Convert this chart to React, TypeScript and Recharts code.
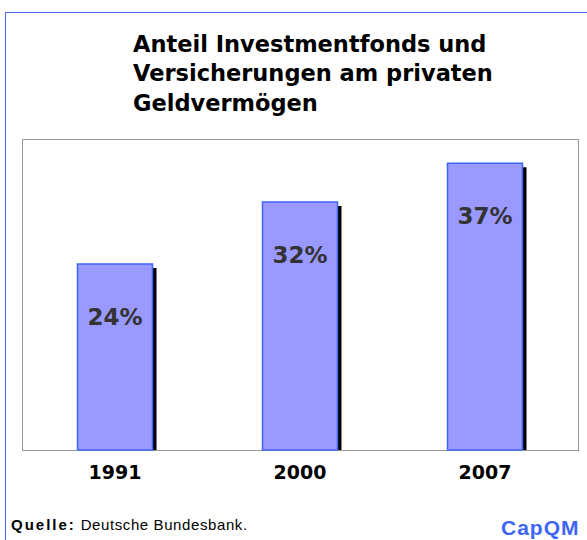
import { BarChart, Bar, XAxis, YAxis, LabelList } from "recharts";

const years = ["1991", "2000", "2007"];
const shares = [24, 32, 37];
const titleLines = ["Anteil Investmentfonds und", "Versicherungen am privaten", "Geldvermögen"];

const data = years.map((y, i) => ({ year: y, share: shares[i] }));

const BarWithShadow = (props: any) => {
    const { x, y, width, height } = props;
    return (
        <g>
            <rect x={x + 4} y={y + 4} width={width} height={Math.max(height - 4, 0)} fill="#000" />
            <rect x={x} y={y} width={width} height={height} fill="#9999FF" stroke="#3D66F5" strokeWidth={1.5} />
        </g>
    );
};

const ValueLabel = (props: any) => {
    const { x, y, width, value } = props;
    return (
        <text
            x={x + width / 2}
            y={y + 61}
            textAnchor="middle"
            fill="#333"
            fontSize={23}
            fontWeight="bold"
            fontFamily="DejaVu Sans"
        >
            {value}%
        </text>
    );
};

const App = () => {
    return (
        <div style={{ position: "fixed", left: 0, top: 0, width: 587, height: 540, background: "#fff", overflow: "hidden" }}>
            {/* outer frame */}
            <div style={{ position: "absolute", left: 5, top: 12, width: 700, height: 700, borderLeft: "1.5px solid #4A6CF0", borderTop: "1.5px solid #4A6CF0" }} />
            {/* plot box */}
            <div style={{ position: "absolute", left: 22, top: 139, width: 555, height: 310, border: "1.5px solid #999" }} />

            <div
                style={{
                    position: "absolute",
                    left: 133,
                    top: 29.5,
                    fontFamily: "DejaVu Sans",
                    fontWeight: "bold",
                    fontSize: 22.5,
                    lineHeight: "29.5px",
                    color: "#000",
                    whiteSpace: "nowrap",
                }}
            >
                {titleLines.map((t) => (
                    <div key={t}>{t}</div>
                ))}
            </div>

            <div style={{ position: "absolute", left: 0, top: 0 }}>
                <BarChart width={587} height={540} data={data} margin={{ top: 140, right: 9.5, bottom: 60, left: 22.5 }}>
                    <XAxis
                        dataKey="year"
                        height={30}
                        axisLine={false}
                        tickLine={false}
                        tickSize={0}
                        tickMargin={16}
                        tick={{ fontSize: 19, fontWeight: "bold", fill: "#000", fontFamily: "DejaVu Sans" }}
                    />
                    <YAxis hide domain={[0, 40]} />
                    <Bar dataKey="share" barSize={75} shape={BarWithShadow} isAnimationActive={false}>
                        <LabelList dataKey="share" content={ValueLabel} />
                    </Bar>
                </BarChart>
            </div>

            <div
                style={{
                    position: "absolute",
                    left: 11,
                    top: 516,
                    fontFamily: "Liberation Sans",
                    fontSize: 15,
                    color: "#000",
                    whiteSpace: "nowrap",
                    letterSpacing: 0.6,
                }}
            >
                <span style={{ fontWeight: "bold", letterSpacing: 2 }}>Quelle:</span> Deutsche Bundesbank.
            </div>
            <div
                style={{
                    position: "absolute",
                    left: 501,
                    top: 516,
                    fontFamily: "Liberation Sans",
                    fontWeight: "bold",
                    fontSize: 21,
                    letterSpacing: 1,
                    color: "#3D66F5",
                    whiteSpace: "nowrap",
                }}
            >
                CapQM
            </div>
        </div>
    );
};

export default App;
